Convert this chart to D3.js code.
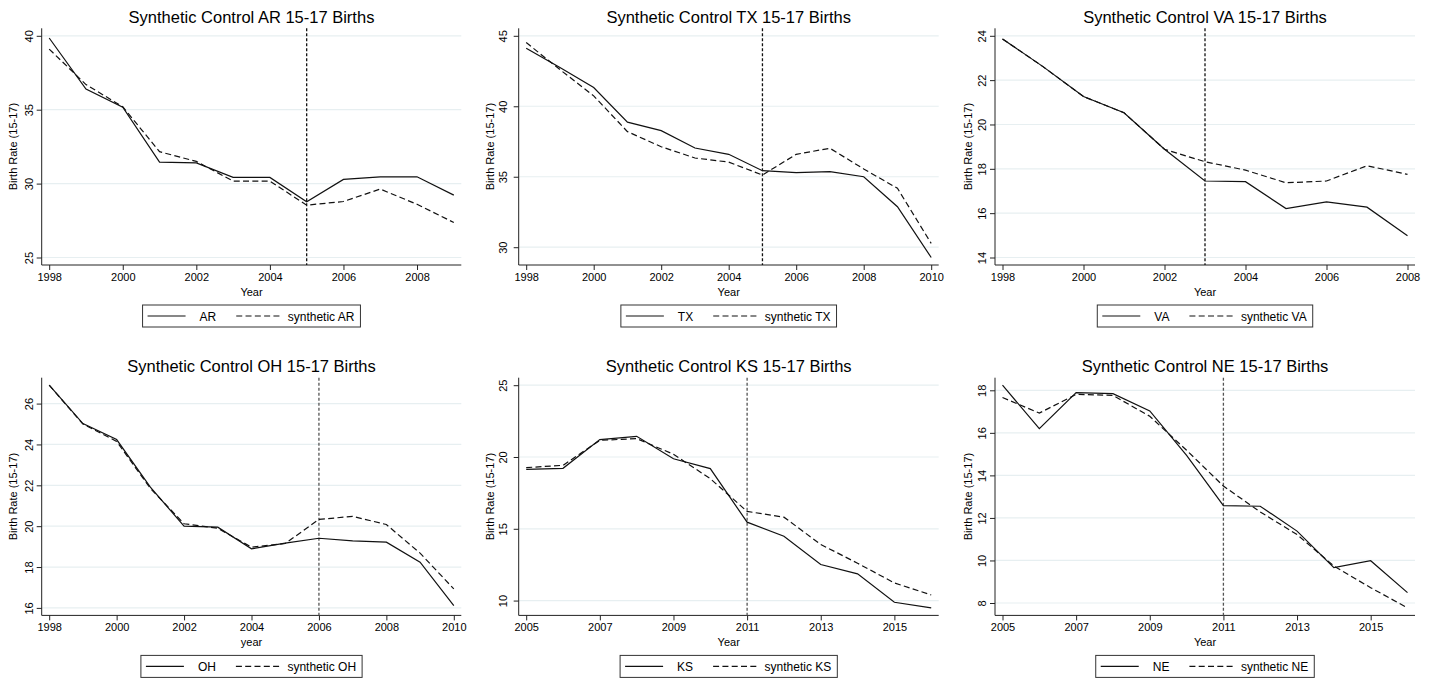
<!DOCTYPE html>
<html>
<head>
<meta charset="utf-8">
<script src="https://cdn.jsdelivr.net/npm/d3@7"></script>
<style>
	body { margin: 0; background: #fff; }
	svg { display: block; font-family: 'Liberation Sans', Arial, Helvetica, sans-serif; }
</style>
</head>
<body>
<svg id="chart" width="1440" height="679"></svg>
<script>
// AR
var arYears = [1998, 1999, 2000, 2001, 2002, 2003, 2004, 2005, 2006, 2007, 2008, 2009];
var arActual = [39.85, 36.4, 35.17, 31.45, 31.4, 30.42, 30.42, 28.77, 30.28, 30.46, 30.46, 29.22];
var arSynthetic = [39.1, 36.7, 35.2, 32.16, 31.5, 30.17, 30.17, 28.54, 28.79, 29.63, 28.6, 27.37];
var arTicksX = [1998, 2000, 2002, 2004, 2006, 2008];
var arTicksY = [25, 30, 35, 40];

// TX
var txYears = [1998, 1999, 2000, 2001, 2002, 2003, 2004, 2005, 2006, 2007, 2008, 2009, 2010];
var txActual = [44.12, 42.75, 41.33, 38.87, 38.27, 37.04, 36.59, 35.43, 35.29, 35.36, 35.0, 32.87, 29.27];
var txSynthetic = [44.52, 42.6, 40.74, 38.2, 37.13, 36.33, 36.04, 35.12, 36.59, 37.02, 35.55, 34.18, 30.27];
var txTicksX = [1998, 2000, 2002, 2004, 2006, 2008, 2010];
var txTicksY = [30, 35, 40, 45];

// VA
var vaYears = [1998, 1999, 2000, 2001, 2002, 2003, 2004, 2005, 2006, 2007, 2008];
var vaActual = [23.86, 22.61, 21.26, 20.53, 18.88, 17.45, 17.42, 16.21, 16.51, 16.27, 14.98];
var vaSynthetic = [23.86, 22.61, 21.26, 20.53, 18.88, 18.32, 17.94, 17.37, 17.45, 18.14, 17.75];
var vaTicksX = [1998, 2000, 2002, 2004, 2006, 2008];
var vaTicksY = [14, 16, 18, 20, 22, 24];

// OH
var ohYears = [1998, 1999, 2000, 2001, 2002, 2003, 2004, 2005, 2006, 2007, 2008, 2009, 2010];
var ohActual = [26.9, 25.02, 24.24, 21.91, 20.0, 19.95, 18.89, 19.17, 19.41, 19.28, 19.22, 18.24, 16.11];
var ohSynthetic = [26.9, 25.0, 24.15, 21.85, 20.12, 19.9, 18.97, 19.15, 20.33, 20.48, 20.08, 18.68, 16.93];
var ohTicksX = [1998, 2000, 2002, 2004, 2006, 2008, 2010];
var ohTicksY = [16, 18, 20, 22, 24, 26];

// KS
var ksYears = [2005, 2006, 2007, 2008, 2009, 2010, 2011, 2012, 2013, 2014, 2015, 2016];
var ksActual = [19.14, 19.21, 21.21, 21.44, 19.88, 19.19, 15.46, 14.48, 12.51, 11.86, 9.88, 9.49];
var ksSynthetic = [19.26, 19.42, 21.16, 21.28, 20.19, 18.49, 16.21, 15.81, 13.91, 12.6, 11.23, 10.39];
var ksTicksX = [2005, 2007, 2009, 2011, 2013, 2015];
var ksTicksY = [10, 15, 20, 25];

// NE
var neYears = [2005, 2006, 2007, 2008, 2009, 2010, 2011, 2012, 2013, 2014, 2015, 2016];
var neActual = [18.24, 16.2, 17.89, 17.84, 17.03, 14.94, 12.58, 12.55, 11.38, 9.66, 9.99, 8.49];
var neSynthetic = [17.66, 16.93, 17.81, 17.76, 16.78, 15.18, 13.5, 12.28, 11.22, 9.74, 8.72, 7.77];
var neTicksX = [2005, 2007, 2009, 2011, 2013, 2015];
var neTicksY = [8, 10, 12, 14, 16, 18];

var panels = [
	{ state: 'AR', treat: 2005, xLabel: 'Year', years: arYears, actual: arActual, synthetic: arSynthetic, xTicks: arTicksX, yTicks: arTicksY },
	{ state: 'TX', treat: 2005, xLabel: 'Year', years: txYears, actual: txActual, synthetic: txSynthetic, xTicks: txTicksX, yTicks: txTicksY },
	{ state: 'VA', treat: 2003, xLabel: 'Year', years: vaYears, actual: vaActual, synthetic: vaSynthetic, xTicks: vaTicksX, yTicks: vaTicksY },
	{ state: 'OH', treat: 2006, xLabel: 'year', years: ohYears, actual: ohActual, synthetic: ohSynthetic, xTicks: ohTicksX, yTicks: ohTicksY },
	{ state: 'KS', treat: 2011, xLabel: 'Year', years: ksYears, actual: ksActual, synthetic: ksSynthetic, xTicks: ksTicksX, yTicks: ksTicksY },
	{ state: 'NE', treat: 2011, xLabel: 'Year', years: neYears, actual: neActual, synthetic: neSynthetic, xTicks: neTicksX, yTicks: neTicksY }
];

// plot boxes per column / row
var colLeft = [41.7, 518.7, 995];
var colRight = [461.3, 938.7, 1415];
var tickLabelOff = [8.5, 12, 9];
var yTitleOff = [25, 25, 23];
var rowTop = [28.3, 377.7];
var rowBottom = [265, 615.4];
var rowVline = ['#111', '#555'];

var svg = d3.select('#chart');

panels.forEach(function (p, i) {
	var col = i % 3, row = Math.floor(i / 3);
	drawPanel(svg, p, {
		left: colLeft[col], right: colRight[col], top: rowTop[row], bottom: rowBottom[row],
		tickOff: tickLabelOff[col], titleOff: yTitleOff[col], vline: rowVline[row]
	});
});

function drawPanel(svg, p, box) {
	var g = svg.append('g');
	var pad = 7.5;
	var x = d3.scaleLinear()
		.domain(d3.extent(p.years))
		.range([box.left + pad, box.right - pad]);
	var y = d3.scaleLinear()
		.domain(d3.extent(p.actual.concat(p.synthetic, p.yTicks)))
		.range([box.bottom - pad, box.top + pad]);
	var midX = (box.left + box.right) / 2;

	// gridlines
	g.selectAll('line.grid').data(p.yTicks).enter().append('line')
		.attr('class', 'grid')
		.attr('x1', box.left).attr('x2', box.right)
		.attr('y1', function (d) { return y(d); })
		.attr('y2', function (d) { return y(d); })
		.attr('stroke', '#e7eff1').attr('stroke-width', 1.2);

	// y axis
	var yAxis = g.append('g')
		.attr('transform', 'translate(' + box.left + ',0)')
		.call(d3.axisLeft(y).tickValues(p.yTicks).tickSize(5).tickSizeOuter(0).tickFormat(d3.format('d')));
	yAxis.select('.domain').remove();
	yAxis.selectAll('.tick line').attr('stroke', '#222');
	yAxis.selectAll('.tick text')
		.attr('x', 0).attr('dy', 0)
		.attr('text-anchor', 'middle')
		.attr('transform', 'translate(' + (-box.tickOff) + ',0) rotate(-90)')
		.attr('font-size', 11).attr('fill', '#000')
		.attr('font-family', 'Liberation Sans, Arial, sans-serif');

	// x axis
	var xAxis = g.append('g')
		.attr('transform', 'translate(0,' + box.bottom + ')')
		.call(d3.axisBottom(x).tickValues(p.xTicks).tickSize(5).tickSizeOuter(0).tickPadding(3).tickFormat(d3.format('d')));
	xAxis.select('.domain').remove();
	xAxis.selectAll('.tick line').attr('stroke', '#222');
	xAxis.selectAll('.tick text')
		.attr('font-size', 11).attr('fill', '#000')
		.attr('font-family', 'Liberation Sans, Arial, sans-serif');

	// axis lines span the whole plot region
	g.append('line')
		.attr('x1', box.left).attr('x2', box.left).attr('y1', box.top).attr('y2', box.bottom)
		.attr('stroke', '#222').attr('stroke-width', 1);
	g.append('line')
		.attr('x1', box.left).attr('x2', box.right).attr('y1', box.bottom).attr('y2', box.bottom)
		.attr('stroke', '#222').attr('stroke-width', 1);

	// treatment year
	g.append('line')
		.attr('x1', x(p.treat)).attr('x2', x(p.treat))
		.attr('y1', box.top).attr('y2', box.bottom)
		.attr('stroke', box.vline).attr('stroke-width', 1.3)
		.attr('stroke-dasharray', '3,2');

	var line = d3.line()
		.x(function (d, j) { return x(p.years[j]); })
		.y(function (d) { return y(d); });

	g.append('path').datum(p.synthetic)
		.attr('d', line).attr('fill', 'none')
		.attr('stroke', '#111').attr('stroke-width', 1.2)
		.attr('stroke-dasharray', '6,3.3');
	g.append('path').datum(p.actual)
		.attr('d', line).attr('fill', 'none')
		.attr('stroke', '#111').attr('stroke-width', 1.2);

	// title
	g.append('text')
		.attr('x', midX).attr('y', box.top - 5.5)
		.attr('text-anchor', 'middle').attr('font-size', 16.5)
		.text('Synthetic Control ' + p.state + ' 15-17 Births');

	// axis titles
	g.append('text')
		.attr('text-anchor', 'middle').attr('font-size', 11)
		.attr('transform', 'translate(' + (box.left - box.titleOff) + ',' + ((box.top + box.bottom) / 2) + ') rotate(-90)')
		.text('Birth Rate (15-17)');
	g.append('text')
		.attr('x', midX).attr('y', box.bottom + 30.5)
		.attr('text-anchor', 'middle').attr('font-size', 11)
		.text(p.xLabel);

	// legend
	var leg = g.append('g');
	var boxTop = box.bottom + 40, boxH = 22;
	var t1 = leg.append('text').attr('font-size', 12).attr('y', boxTop + 15.5).text(p.state);
	var t2 = leg.append('text').attr('font-size', 12).attr('y', boxTop + 15.5).text('synthetic ' + p.state);
	var w1 = t1.node().getComputedTextLength();
	var w2 = t2.node().getComputedTextLength();
	var total = 5 + 38 + 14 + w1 + 20 + 44.5 + 7 + w2 + 6;
	var x0 = midX - total / 2;
	leg.append('rect')
		.attr('x', x0).attr('y', boxTop).attr('width', total).attr('height', boxH)
		.attr('fill', '#fff').attr('stroke', '#333').attr('stroke-width', 1);
	leg.append('line')
		.attr('x1', x0 + 5).attr('x2', x0 + 43)
		.attr('y1', boxTop + boxH / 2).attr('y2', boxTop + boxH / 2)
		.attr('stroke', '#111').attr('stroke-width', 1.2);
	t1.attr('x', x0 + 57).raise();
	var dx = x0 + 57 + w1 + 20;
	leg.append('line')
		.attr('x1', dx).attr('x2', dx + 44.5)
		.attr('y1', boxTop + boxH / 2).attr('y2', boxTop + boxH / 2)
		.attr('stroke', '#111').attr('stroke-width', 1.2)
		.attr('stroke-dasharray', '6,3.3');
	t2.attr('x', dx + 51.5).raise();
}
</script>
</body>
</html>
